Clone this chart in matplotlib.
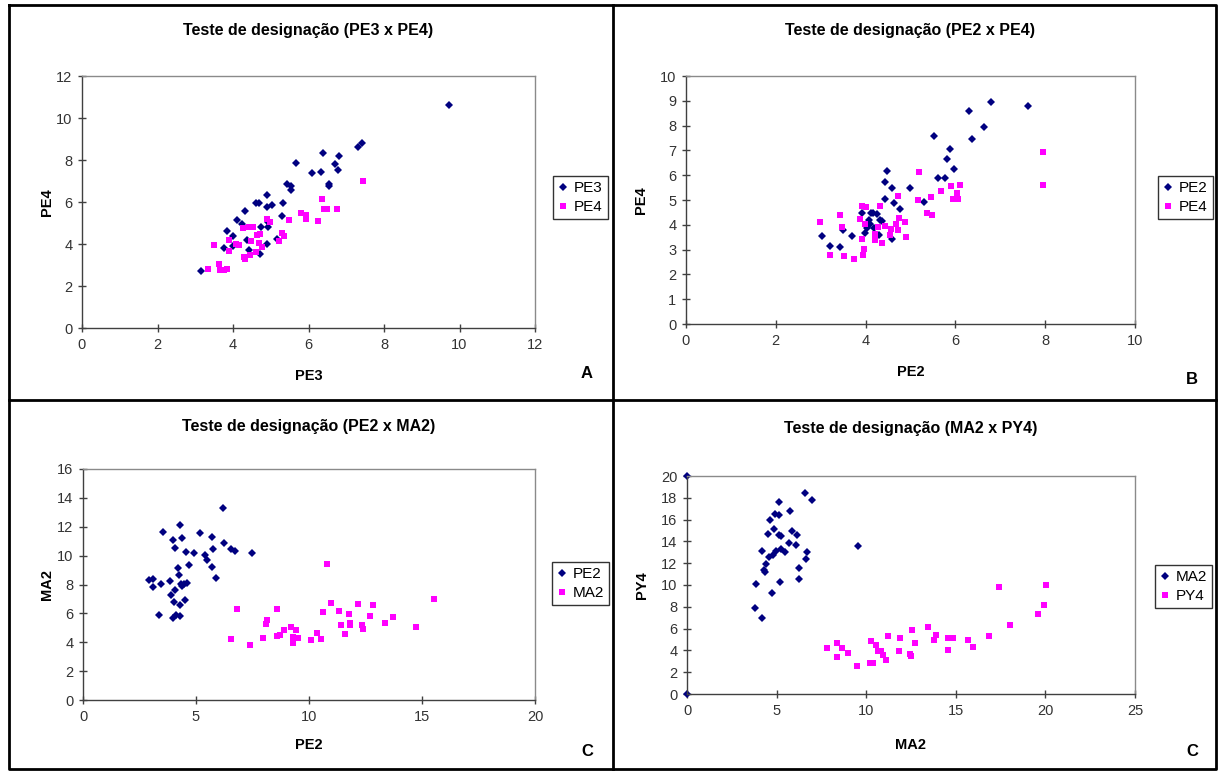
import matplotlib
matplotlib.use('Agg')
import matplotlib.pyplot as plt
from matplotlib.lines import Line2D

plt.rcParams['font.family'] = ['Liberation Sans', 'DejaVu Sans']

# Painel A: PE3 x PE4
a_pe3_x = [3.14, 3.83, 4.01, 3.77, 3.99, 4.10, 4.23, 4.32, 4.36, 4.43, 4.71, 4.91, 4.94, 4.94,
           4.74, 4.61, 4.70, 4.91, 4.91, 5.02, 5.16, 5.29, 5.32, 5.42, 5.54, 5.54, 5.67, 6.08,
           6.33, 6.38, 6.55, 6.55, 6.70, 6.79, 6.82, 7.31, 7.41, 9.72]
a_pe3_y = [2.71, 4.62, 4.38, 3.83, 3.89, 5.13, 4.94, 5.57, 4.21, 3.70, 3.51, 4.02, 4.81, 5.05,
           4.81, 5.95, 5.95, 6.32, 5.76, 5.87, 4.26, 5.32, 5.95, 6.88, 6.75, 6.59, 7.86, 7.38,
           7.43, 8.35, 6.84, 6.75, 7.80, 7.51, 8.19, 8.62, 8.81, 10.60]
a_pe4_x = [3.34, 3.50, 3.63, 3.65, 3.77, 3.85, 3.90, 3.90, 4.08, 4.16, 4.27, 4.30, 4.32, 4.43,
           4.54, 4.45, 4.49, 4.61, 4.63, 4.71, 4.69, 4.76, 4.89, 4.98, 5.23, 5.29, 5.35, 5.48,
           5.79, 5.93, 5.93, 6.26, 6.37, 6.41, 6.50, 6.75, 7.45]
a_pe4_y = [2.80, 3.94, 3.07, 2.75, 2.75, 2.83, 4.18, 3.67, 3.99, 3.94, 4.77, 3.38, 3.27, 4.81,
           4.81, 3.46, 4.13, 3.62, 4.41, 4.46, 4.07, 3.86, 5.21, 5.05, 4.13, 4.54, 4.37, 5.16,
           5.48, 5.40, 5.18, 5.10, 6.16, 5.65, 5.65, 5.69, 7.00]

# Painel B: PE2 x PE4
b_pe2_x = [3.03, 3.21, 3.42, 3.50, 3.69, 3.92, 3.98, 4.03, 4.07, 4.11, 4.16, 4.25, 4.09, 4.18,
           4.31, 4.36, 4.30, 4.44, 4.44, 4.47, 4.59, 4.64, 4.77, 4.59, 4.98, 5.30, 5.53, 5.61,
           5.76, 5.81, 5.87, 5.96, 6.31, 6.36, 6.63, 6.80, 7.61]
b_pe2_y = [3.53, 3.15, 3.12, 3.78, 3.56, 4.49, 3.67, 3.87, 4.18, 4.48, 4.48, 4.45, 4.05, 3.87,
           4.21, 4.14, 3.60, 5.03, 5.73, 6.17, 5.47, 4.86, 4.65, 3.41, 5.49, 4.90, 7.59, 5.87,
           5.87, 6.65, 7.06, 6.25, 8.57, 7.47, 7.93, 8.94, 8.78]
b_pe4_x = [2.98, 3.21, 3.44, 3.48, 3.53, 3.74, 3.87, 3.91, 3.93, 4.00, 3.94, 3.96, 3.98, 4.20,
           4.22, 4.27, 4.31, 4.37, 4.44, 4.55, 4.57, 4.68, 4.72, 4.72, 4.74, 4.87, 4.89, 5.20,
           5.16, 5.37, 5.47, 5.46, 5.67, 5.90, 6.11, 6.03, 5.94, 6.05, 7.96, 7.96]
b_pe4_y = [4.11, 2.77, 4.39, 3.91, 2.73, 2.64, 4.22, 3.42, 4.76, 4.73, 2.79, 3.02, 4.05, 3.62,
           3.38, 3.91, 4.76, 3.25, 3.95, 3.58, 3.85, 4.02, 5.17, 3.78, 4.28, 4.11, 3.51, 6.12,
           5.01, 4.49, 4.41, 5.13, 5.38, 5.58, 5.62, 5.30, 5.05, 5.05, 6.93, 5.62]

# Painel C: PE2 x MA2
c_pe2_x = [6.19, 4.28, 3.55, 5.19, 3.97, 4.40, 5.73, 4.06, 4.54, 4.91, 5.77, 6.24, 6.54, 6.71,
           7.49, 5.41, 5.50, 4.69, 5.69, 5.87, 4.19, 4.23, 2.93, 3.11, 3.11, 3.44, 3.85, 4.32,
           4.47, 4.59, 4.40, 4.07, 3.89, 4.03, 4.50, 4.28, 3.35, 3.98, 4.10, 4.28]
c_pe2_y = [13.30, 12.12, 11.66, 11.59, 11.06, 11.19, 11.30, 10.55, 10.23, 10.16, 10.48, 10.90,
           10.44, 10.34, 10.16, 10.04, 9.70, 9.37, 9.23, 8.47, 9.12, 8.66, 8.30, 8.39, 7.85, 8.02,
           8.27, 8.02, 8.06, 8.09, 7.89, 7.62, 7.27, 6.77, 6.91, 6.56, 5.91, 5.66, 5.89, 5.84]
c_ma2_x = [6.83, 8.60, 8.16, 8.08, 6.54, 7.40, 7.98, 8.60, 10.78, 8.72, 8.89, 9.21, 9.41, 9.31,
           9.53, 9.31, 10.08, 10.34, 10.52, 10.64, 10.97, 11.31, 11.40, 11.58, 11.77, 11.80,
           11.83, 12.15, 12.35, 12.39, 12.68, 12.82, 13.37, 13.70, 14.75, 15.55]
c_ma2_y = [6.27, 6.27, 5.54, 5.24, 4.20, 3.83, 4.29, 4.43, 9.40, 4.50, 4.85, 5.03, 4.85, 4.39,
           4.32, 3.93, 4.18, 4.64, 4.25, 6.08, 6.75, 6.15, 5.22, 4.57, 5.98, 5.35, 5.18, 6.67,
           5.18, 4.93, 5.82, 6.60, 5.35, 5.75, 5.03, 7.00]

# Painel D: MA2 x PY4
d_ma2_x = [0.0, 0.0, 6.56, 6.97, 5.13, 5.77, 4.93, 5.13, 4.61, 4.85, 5.85, 4.50, 5.13, 5.26,
           6.16, 5.67, 6.08, 5.22, 4.98, 5.49, 4.16, 6.71, 4.55, 4.79, 6.62, 4.39, 4.27, 4.33,
           6.25, 6.25, 3.87, 5.19, 4.76, 3.79, 4.18, 9.53]
d_ma2_y = [20.0, 0.0, 18.44, 17.84, 17.57, 16.77, 16.50, 16.40, 16.00, 15.12, 14.94, 14.64,
           14.57, 14.51, 14.57, 13.81, 13.66, 13.29, 13.14, 13.02, 13.08, 12.99, 12.53, 12.72,
           12.35, 11.89, 11.37, 11.16, 11.53, 10.55, 10.06, 10.25, 9.24, 7.92, 6.95, 13.60]
d_py4_x = [7.81, 8.39, 8.65, 8.39, 8.98, 9.51, 10.29, 10.57, 10.20, 10.38, 10.66, 10.81, 10.94,
           11.09, 11.20, 11.87, 11.82, 12.53, 12.73, 12.47, 12.50, 13.47, 13.92, 13.79, 14.54,
           14.82, 14.54, 15.69, 15.95, 16.86, 17.40, 18.02, 19.56, 19.93, 20.01]
d_py4_y = [4.26, 4.66, 4.26, 3.38, 3.78, 2.53, 4.85, 4.54, 2.80, 2.80, 3.90, 3.90, 3.57, 3.11,
           5.33, 5.12, 3.99, 5.88, 4.66, 3.66, 3.53, 6.19, 5.45, 4.94, 5.15, 5.15, 4.05, 4.94,
           4.33, 5.33, 9.82, 6.31, 7.37, 8.14, 10.00]

W, H = 1218, 771
NAVY = '#000080'
MAGENTA = '#FF00FF'


def px_rect(x0, y0, x1, y1):
    return [x0 / W, 1 - y1 / H, (x1 - x0) / W, (y1 - y0) / H]


fig = plt.figure(figsize=(W / 100, H / 100), dpi=100)

# molduras dos quatro paineis
frame = dict(color='black', lw=2, transform=fig.transFigure)
fig.add_artist(Line2D([9 / W, 1216 / W, 1216 / W, 9 / W, 9 / W],
                      [1 - 5 / H, 1 - 5 / H, 1 - 769 / H, 1 - 769 / H, 1 - 5 / H], **frame))
fig.add_artist(Line2D([613 / W, 613 / W], [1 - 5 / H, 1 - 769 / H], **frame))
fig.add_artist(Line2D([9 / W, 1216 / W], [1 - 400 / H, 1 - 400 / H], **frame))

panels = [
    dict(rect=(82, 76, 535, 328), title='Teste de designação (PE3 x PE4)', ty=30,
         xlabel='PE3', ylabel='PE4', xl=(0, 12), xs=2, yl=(0, 12), ys=2,
         s1=(a_pe3_x, a_pe3_y, 'PE3'), s2=(a_pe4_x, a_pe4_y, 'PE4'),
         leg=(553, 176), letter='A', lp=(587, 373), xly=376, ylx=47),
    dict(rect=(686, 76, 1135, 324), title='Teste de designação (PE2 x PE4)', ty=30,
         xlabel='PE2', ylabel='PE4', xl=(0, 10), xs=2, yl=(0, 10), ys=1,
         s1=(b_pe2_x, b_pe2_y, 'PE2'), s2=(b_pe4_x, b_pe4_y, 'PE4'),
         leg=(1158, 176), letter='B', lp=(1192, 380), xly=372, ylx=641),
    dict(rect=(83, 469, 535, 700), title='Teste de designação (PE2 x MA2)', ty=426,
         xlabel='PE2', ylabel='MA2', xl=(0, 20), xs=5, yl=(0, 16), ys=2,
         s1=(c_pe2_x, c_pe2_y, 'PE2'), s2=(c_ma2_x, c_ma2_y, 'MA2'),
         leg=(552, 562), letter='C', lp=(587, 752), xly=745, ylx=47),
    dict(rect=(687, 476, 1135, 694), title='Teste de designação (MA2 x PY4)', ty=428,
         xlabel='MA2', ylabel='PY4', xl=(0, 25), xs=5, yl=(0, 20), ys=2,
         s1=(d_ma2_x, d_ma2_y, 'MA2'), s2=(d_py4_x, d_py4_y, 'PY4'),
         leg=(1155, 565), letter='C', lp=(1192, 752), xly=745, ylx=642),
]

for p in panels:
    x0, y0, x1, y1 = p['rect']
    ax = fig.add_axes(px_rect(x0, y0, x1, y1))
    xs, ys, lab = p['s1']
    ax.plot(xs, ys, 'D', color=NAVY, ms=4.4, mew=0, label=lab, clip_on=False)
    xs, ys, lab = p['s2']
    ax.plot(xs, ys, 's', color=MAGENTA, ms=4.3, mew=0, label=lab, clip_on=False)

    ax.set_xlim(*p['xl'])
    ax.set_ylim(*p['yl'])
    ax.set_xticks(range(p['xl'][0], p['xl'][1] + 1, p['xs']))
    ax.set_yticks(range(p['yl'][0], p['yl'][1] + 1, p['ys']))
    ax.tick_params(direction='inout', length=6, width=1, color='#404040',
                   labelsize=10.5, labelcolor='#333333', pad=4)
    for side in ('left', 'bottom'):
        ax.spines[side].set_color('#404040')
        ax.spines[side].set_linewidth(1)
    for side in ('top', 'right'):
        ax.spines[side].set_color('#8a8a8a')
        ax.spines[side].set_linewidth(1)

    cx = (x0 + x1) / 2
    fig.text(cx / W, 1 - p['ty'] / H, p['title'], ha='center', va='center',
             fontsize=11.5, fontweight='bold')
    fig.text(cx / W, 1 - p['xly'] / H, p['xlabel'], ha='center', va='center',
             fontsize=10.5, fontweight='bold')
    fig.text(p['ylx'] / W, 1 - (y0 + y1) / 2 / H, p['ylabel'], ha='center', va='center',
             rotation=90, fontsize=10.5, fontweight='bold')
    fig.text(p['lp'][0] / W, 1 - p['lp'][1] / H, p['letter'], ha='center', va='center',
             fontsize=12, fontweight='bold')

    lx, ly = p['leg']
    leg = ax.legend(loc='upper left', bbox_to_anchor=(lx / W, 1 - ly / H),
                    bbox_transform=fig.transFigure, frameon=True, fancybox=False,
                    edgecolor='black', fontsize=11, handlelength=0.6,
                    handletextpad=0.4, borderpad=0.35, labelspacing=0.3,
                    borderaxespad=0, markerscale=0.9)
    leg.get_frame().set_linewidth(1)

fig.savefig('out.png', dpi=100)
